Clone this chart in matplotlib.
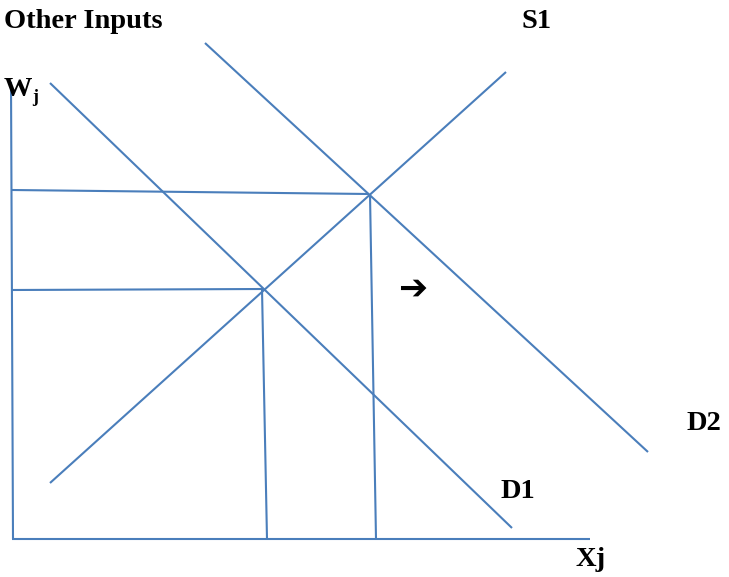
import matplotlib.pyplot as plt

# diagram segments in picture units (x right, y down)
axis_y = [(11, 82), (13, 539)]
axis_x = [(12, 539), (590, 539)]
demand_1 = [(50, 83), (512, 528)]
demand_2 = [(205, 43), (648, 452)]
supply_1 = [(50, 483), (506, 72)]
wage_low = [(12, 290), (263, 289)]
wage_high = [(12, 190), (369, 194)]
qty_low = [(262, 289), (267, 539)]
qty_high = [(370, 194), (376, 539)]

segments = [axis_y, axis_x, demand_1, demand_2, supply_1,
            wage_low, wage_high, qty_low, qty_high]

labels = [
    ("Other Inputs", 4, 22),
    ("S1", 522, 22),
    ("D2", 687, 424),
    ("D1", 501, 492),
    ("Xj", 576, 560),
]

LINE_COLOR = "#4a7ebb"

fig = plt.figure(figsize=(7.29, 5.77), dpi=100)
ax = fig.add_axes([0, 0, 1, 1])
ax.set_xlim(0, 729)
ax.set_ylim(577, 0)
ax.axis("off")

for seg in segments:
    xs = [p[0] for p in seg]
    ys = [p[1] for p in seg]
    ax.plot(xs, ys, color=LINE_COLOR, linewidth=1.5, solid_capstyle="butt")

for txt, x, y in labels:
    ax.text(x, y, txt, fontsize=20.5, fontweight="bold", family="Liberation Serif",
            ha="left", va="center", color="black")

# W subscript j
ax.text(4, 89, "W", fontsize=20.5, fontweight="bold", family="Liberation Serif",
        ha="left", va="center")
ax.text(32, 98, "j", fontsize=13, fontweight="bold", family="Liberation Serif",
        ha="left", va="center")

# shift arrow
ax.text(398, 289, "\u2794", fontsize=25, fontweight="bold", family="DejaVu Sans",
        ha="left", va="center", color="black")

fig.savefig("out.png", dpi=100)
